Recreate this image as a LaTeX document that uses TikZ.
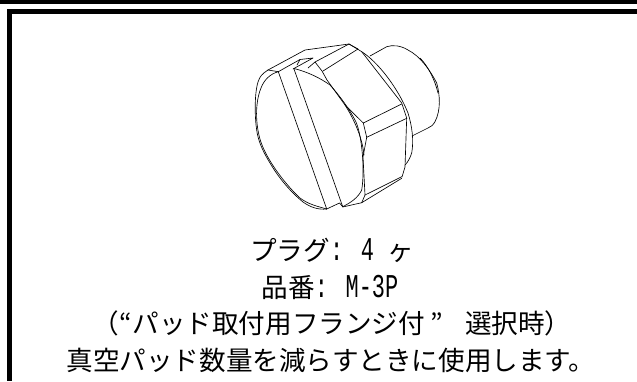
\documentclass[tikz,border=0pt]{standalone}
\usepackage{fontspec}
\setmainfont{Noto Sans CJK JP}
\newfontfamily\hw[FakeStretch=0.66,Scale=1.25]{Liberation Mono}
\tikzset{part/.style={draw=black,line width=0.65pt,line join=round,line cap=round},
caption/.style={inner sep=0pt,font=\fontsize{26.6pt}{28pt}\selectfont,anchor=center}}
\begin{document}
\begin{tikzpicture}[x=1pt,y=-1pt]
\useasboundingbox (0,0) rectangle (637,381);
\fill[black] (0,0) rectangle (637,4);
\fill[black] (7,9) rectangle (637,13.5);
\fill[black] (7,9) rectangle (12,381);
% rear cylinder
\draw[part] (370,56) -- (386.7,46.7) .. controls (392,45) and (400,45) .. (408,50) .. controls (420,56) and (430,70) .. (436.7,83) .. controls (440,95) and (441,110) .. (435,121.7) .. controls (433,125) and (431,127) .. (428,128) -- (412,136);
\draw[part] (420,58) .. controls (428,66) and (435,80) .. (438,93);
% hex outline and edges
\draw[part] (268,70) -- (305,50) -- (349,44) -- (358,49);
\draw[part] (349,44) .. controls (352,46) and (356,48) .. (361.7,51.7) .. controls (378,62) and (398,88) .. (408,113) .. controls (412,126) and (414,140) .. (411.7,153) .. controls (410,158) and (408,162) .. (405,165);
\draw[part] (349,44) -- (315,62);
\draw[part] (358,49) -- (323,71);
\draw[part] (361.7,51.7) -- (401.7,103) -- (406.7,118) -- (405,167) -- (402,177);
\draw[part] (363.3,123) -- (401.7,104);
\draw[part] (366.7,137.3) -- (406.7,118.3);
\draw[part] (401.7,176.7) -- (365,195);
\draw[part] (401.7,178.3) -- (361.7,202.7) -- (342.7,207);
% chamfer
\draw[part] (308,68) -- (315,62) -- (322,71) -- (327,80) -- (345,105) -- (363.3,123) -- (366.7,137.3) -- (363,157) -- (365,195) -- (361.7,202.7);
\draw[part] (345,105) .. controls (352,116) and (362,135) .. (364,155);
% notch
\draw[part] (278.3,71.7) -- (300,59.5) -- (313,58) -- (293,69);
\draw[part] (297,65) -- (300,59.5);
% slot
\draw[part] (268,70) -- (278.3,71.7) -- (326.7,209);
\draw[part] (294,69) -- (342.7,206.7);
\draw[part] (326.7,209) -- (339.5,203) -- (342.7,206.7);
% face arcs
\draw[part] (294,68.5) .. controls (308,72) and (320,78) .. (330,85) .. controls (340,96) and (350,110) .. (356,122) .. controls (362,136) and (365,170) .. (361.7,190) .. controls (358,198) and (350,203) .. (342.7,206.7);
\draw[part] (268,70) .. controls (262,74) and (260,76) .. (258,82) .. controls (254,95) and (255,120) .. (256.7,130) .. controls (258,140) and (262,150) .. (270,163) .. controls (280,180) and (292,193) .. (303,202) .. controls (310,207) and (318,210) .. (326.7,209);
\draw[part] (278.3,71.7) .. controls (270,74) and (264,80) .. (261,88) .. controls (254,105) and (256,130) .. (262,145) .. controls (270,165) and (288,187) .. (300,198) .. controls (308,204) and (316,206) .. (326.7,209);
% captions
\node[caption] (l1) at (332,250) {プラグ{\hw: 4 }ヶ};
\node[caption] (l2) at (330,287.5) {品番{\hw: M-3P}};
\node[caption] (l3) at (332,323.5) {（\makebox[0.5em]{“}パッド取付用フランジ付\makebox[1.5em][l]{\hspace{0.2em}”}選択時）};
\node[caption] (l4) at (331,360) {真空パッド数量を減らすときに使用します。};
\end{tikzpicture}
\end{document}
